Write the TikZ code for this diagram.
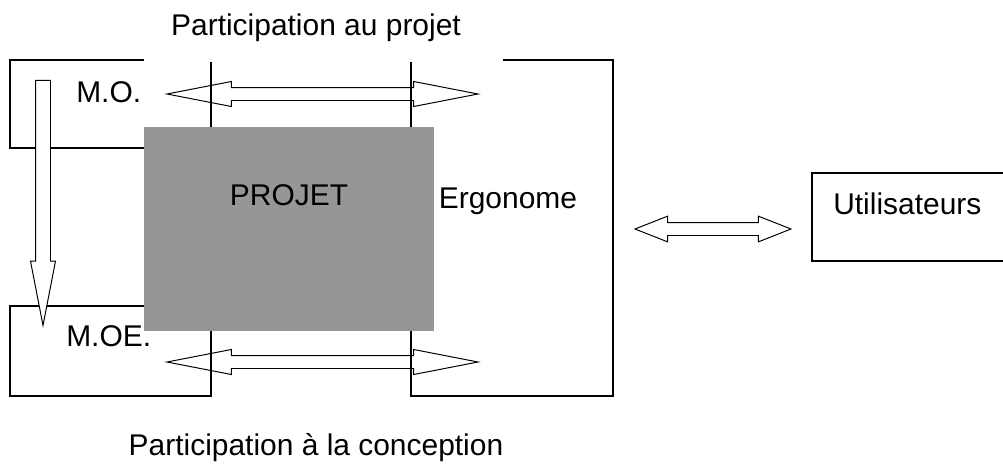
\documentclass[tikz,border=0pt]{standalone}
\usepackage{fontspec}
\setmainfont{Liberation Sans}
\usetikzlibrary{shapes.arrows}
\definecolor{projetgray}{RGB}{150,150,150}

\begin{document}
\begin{tikzpicture}[
  every node/.style={inner sep=0pt, font=\fontsize{21.3pt}{25pt}\selectfont},
  wall/.style={line width=1pt},
  twoway/.style={double arrow, draw, line width=0.7pt, inner ysep=0.15cm,
    double arrow head extend=0.15cm, double arrow tip angle=22},
]
\useasboundingbox (0,0) rectangle (25.075,-11.625);

% titles
\node [anchor=base] (ptop) at (7.9,-0.875) {Participation au projet};
\node [anchor=base] (pbot) at (7.9,-11.375) {Participation à la conception};

%M.O.
\draw [wall] (3.6,-1.5) -- (0.25,-1.5) -- (0.25,-3.7) -- (3.6,-3.7);
\node [anchor=base west] (mo) at (1.9,-2.56) {M.O.};

%M.OE.
\draw [wall] (3.6,-7.65) -- (0.25,-7.65) -- (0.25,-9.9) -- (5.275,-9.9) -- (5.275,-1.55);
\node [anchor=base west] (moe) at (1.65,-8.65) {M.OE.};

%Ergonome
\draw [wall] (12.575,-1.5) -- (15.325,-1.5) -- (15.325,-9.9) -- (10.275,-9.9) -- (10.275,-1.55);
\node [anchor=base west] (ergo) at (10.965,-5.2) {Ergonome};

%PROJET
\fill [projetgray] (3.6,-3.175) rectangle (10.85,-8.275);
\node [anchor=base] (projet) at (7.225,-5.125) {PROJET};

%Utilisateurs
\draw [wall] (25.075,-4.325) -- (20.3,-4.325) -- (20.3,-6.525) -- (25.075,-6.525);
\node [anchor=base west] (users) at (20.825,-5.35) {Utilisateurs};

% arrows
\node [twoway, minimum height=7.775cm] (projarrow) at (8.0625,-2.35) {};
\node [twoway, minimum height=7.775cm] (concarrow) at (8.0625,-9.05) {};
\node [twoway, minimum height=3.9cm, double arrow head extend=0.16cm,
  double arrow tip angle=43] (userarrow) at (17.825,-5.725) {};
\node [single arrow, draw, fill=white, line width=0.7pt, inner ysep=0.175cm,
  minimum height=6.125cm, single arrow head extend=0.125cm, single arrow tip angle=22,
  rotate=-90, anchor=tip] (downarrow) at (1.075,-8.2) {};

\end{tikzpicture}
\end{document}
